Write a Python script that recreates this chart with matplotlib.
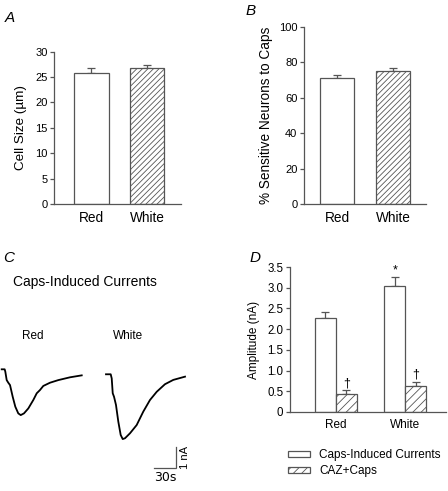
import numpy as np
import matplotlib
matplotlib.use("Agg")
import matplotlib.pyplot as plt
from matplotlib.patches import Patch
from matplotlib.ticker import FuncFormatter

plt.rcParams['font.family'] = ['Liberation Sans', 'DejaVu Sans']
plt.rcParams['hatch.linewidth'] = 0.6

# ================= DATA =================

groups = ["Red", "White"]

# A: cell size (um)
cell_size = [25.8, 26.7]
cell_size_err = [1.0, 0.7]

# B: % sensitive neurons to caps
sensitive = [71.0, 75.3]
sensitive_err = [1.7, 1.7]

# D: current amplitude (nA)
caps_amp = [2.28, 3.05]
caps_amp_err = [0.14, 0.20]
caz_amp = [0.44, 0.62]
caz_amp_err = [0.08, 0.10]
caps_marks = ["", "*"]
caz_marks = ["\u2020", "\u2020"]

# C: example traces (time in s, current in nA)
red_t = [0, 4.1, 5.0, 6.9, 9.1, 11.5, 15.2, 18.8, 22.9, 26.3, 30.8, 36.8,
         43.7, 48.4, 52.9, 57.5, 66.8, 78.2, 94.4, 110.6]
red_i = [0, 0, -0.11, -0.50, -0.62, -0.73, -1.27, -1.73, -2.04, -2.12, -2.04,
         -1.81, -1.42, -1.11, -0.96, -0.77, -0.62, -0.50, -0.37, -0.28]
white_t = [0, 6.5, 7.9, 9.3, 11.1, 13.8, 17.0, 20.3, 23.1, 26.3, 33.2, 42.4,
           51.5, 60.8, 70.1, 81.5, 93.0, 109.2]
white_i = [0, 0, -0.19, -0.88, -1.04, -1.42, -2.19, -2.81, -3.00, -2.96,
           -2.73, -2.35, -1.73, -1.19, -0.81, -0.46, -0.26, -0.11]

scale_t = 30   # s
scale_i = 1    # nA

# ================= STYLE =================

EDGE = "#555555"
SPINE = "#555555"


def style_axes(ax, ytick_size, xtick_size):
    for s in ["top", "right"]:
        ax.spines[s].set_visible(False)
    for s in ["left", "bottom"]:
        ax.spines[s].set_color(SPINE)
        ax.spines[s].set_linewidth(0.9)
    ax.tick_params(axis="y", direction="out", length=3.2, width=0.9,
                   color=SPINE, labelsize=ytick_size, pad=1.5)
    ax.tick_params(axis="x", length=0, labelsize=xtick_size, pad=5)


def bars(ax, x, vals, errs, width, hatch=None):
    ax.bar(x, vals, width, color="white", edgecolor=EDGE, linewidth=0.9,
           hatch=hatch, zorder=2)
    ax.errorbar(x, vals, yerr=[np.zeros(len(errs)), errs], fmt="none",
                ecolor=EDGE, elinewidth=0.9, capsize=2.6, capthick=0.9,
                zorder=1)


fig = plt.figure(figsize=(4.48, 4.91), dpi=100)
x = np.arange(len(groups))

# ================= A =================
axA = fig.add_axes([0.1212, 0.5845, 0.2828, 0.3102])
bars(axA, x[:1], cell_size[:1], cell_size_err[:1], 0.62)
bars(axA, x[1:], cell_size[1:], cell_size_err[1:], 0.62, hatch="//////")
axA.set_xlim(-0.664, 1.61)
axA.set_ylim(0, 30)
axA.set_yticks(np.arange(0, 31, 5))
axA.set_xticks(x)
axA.set_xticklabels(groups)
axA.set_ylabel("Cell Size (\u00b5m)", fontsize=9.7, labelpad=6)
style_axes(axA, 8, 9.8)

# ================= B =================
axB = fig.add_axes([0.6786, 0.5845, 0.2723, 0.3605])
bars(axB, x[:1], sensitive[:1], sensitive_err[:1], 0.59)
bars(axB, x[1:], sensitive[1:], sensitive_err[1:], 0.59, hatch="//////")
axB.set_xlim(-0.589, 1.589)
axB.set_ylim(0, 100)
axB.set_yticks(np.arange(0, 101, 20))
axB.set_xticks(x)
axB.set_xticklabels(groups)
axB.set_ylabel("% Sensitive Neurons to Caps", fontsize=9.8, labelpad=4)
style_axes(axB, 8, 9.8)

# ================= C =================
axC = fig.add_axes([0.0, 0.002, 0.4464, 0.3055])
axC.axis("off")
axC.set_xlim(0, 276.4)
axC.set_ylim(-5.588, 1.356)
axC.plot(np.array(red_t) + 2.35, np.array(red_i), color="black", lw=1.3)
axC.plot(np.array(white_t) + 146.5, np.array(white_i) - 0.23,
         color="black", lw=1.3)
sb_x, sb_y = 242.8, -4.58
axC.plot([sb_x - scale_t, sb_x, sb_x], [sb_y, sb_y, sb_y + scale_i],
         color=EDGE, lw=0.9, solid_joinstyle="miter")
axC.text(sb_x + 13, sb_y + scale_i / 2, "1 nA", rotation=90, fontsize=8,
         ha="center", va="center")
axC.text(sb_x - scale_t / 2, sb_y - 0.45, "30s", fontsize=9,
         ha="center", va="center", family="DejaVu Sans")

fig.text(0.0298, 0.4263, "Caps-Induced Currents", fontsize=10, va="center")
fig.text(0.0499, 0.3157, "Red", fontsize=8.5, va="center")
fig.text(0.253, 0.3157, "White", fontsize=8.5, va="center")

# ================= D =================
axD = fig.add_axes([0.6473, 0.1609, 0.3482, 0.2953])
w = 0.302
bars(axD, x - w / 2, caps_amp, caps_amp_err, w)
bars(axD, x + w / 2, caz_amp, caz_amp_err, w, hatch="////")
for xi, v, e, m in zip(x - w / 2, caps_amp, caps_amp_err, caps_marks):
    axD.text(xi, v + e + 0.03, m, ha="center", va="bottom", fontsize=9)
for xi, v, e, m in zip(x + w / 2, caz_amp, caz_amp_err, caz_marks):
    axD.text(xi, v + e + 0.03, m, ha="center", va="bottom", fontsize=9)
axD.set_xlim(-0.662, 1.583)
axD.set_ylim(0, 3.5)
axD.set_yticks(np.arange(0, 3.51, 0.5))
axD.yaxis.set_major_formatter(FuncFormatter(
    lambda v, p: "0" if v == 0 else "%.1f" % v))
axD.set_xticks(x)
axD.set_xticklabels(groups)
axD.set_ylabel("Amplitude (nA)", fontsize=8.5, labelpad=5)
style_axes(axD, 8.3, 8.5)

handles = [Patch(facecolor="white", edgecolor=EDGE, linewidth=0.9),
           Patch(facecolor="white", edgecolor=EDGE, linewidth=0.9, hatch="////")]
fig.legend(handles, ["Caps-Induced Currents", "CAZ+Caps"],
           loc="upper left", bbox_to_anchor=(0.643, 0.0855), frameon=False,
           fontsize=8.5, borderpad=0, borderaxespad=0, handlelength=1.9,
           handleheight=0.4, handletextpad=0.75, labelspacing=0.35)

# ================= LETTERS =================
fig.text(0.011, 0.963, "A", fontsize=11, style="italic", va="center")
fig.text(0.548, 0.9776, "B", fontsize=11, style="italic", va="center")
fig.text(0.0074, 0.474, "C", fontsize=11, style="italic", va="center")
fig.text(0.556, 0.4745, "D", fontsize=11, style="italic", va="center")

fig.savefig("out.png", dpi=100)
plt.close(fig)
